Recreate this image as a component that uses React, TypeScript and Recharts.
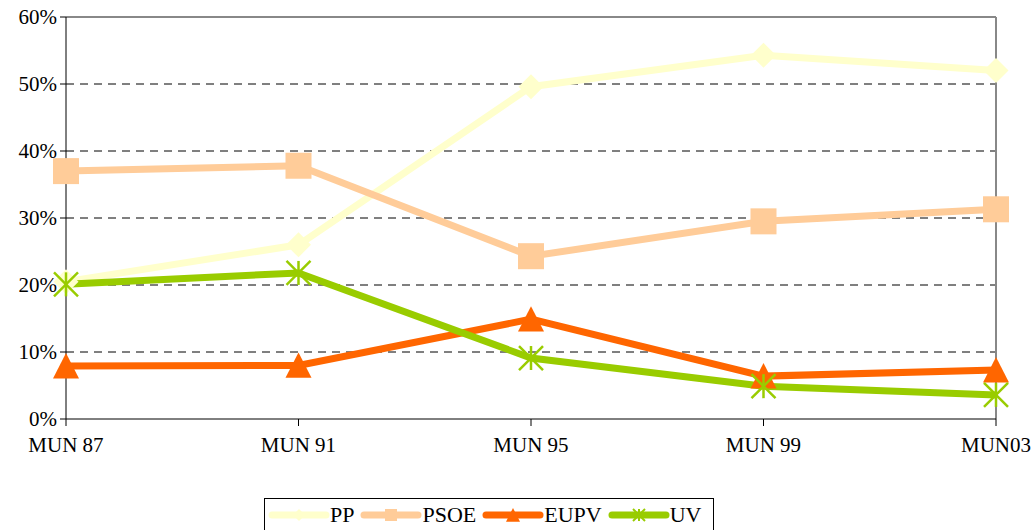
import React from "react";
import {
  LineChart,
  Line,
  XAxis,
  YAxis,
  CartesianGrid,
  ReferenceLine,
} from "recharts";

const categories = ["MUN 87", "MUN 91", "MUN 95", "MUN 99", "MUN03"];
const ppValues = [0.205, 0.26, 0.496, 0.543, 0.52];
const psoeValues = [0.37, 0.378, 0.243, 0.295, 0.313];
const eupvValues = [0.079, 0.08, 0.149, 0.064, 0.073];
const uvValues = [0.201, 0.218, 0.091, 0.049, 0.036];
const yTicks = [0, 0.1, 0.2, 0.3, 0.4, 0.5, 0.6];

const data = categories.map((cat, i) => ({
  cat,
  PP: ppValues[i],
  PSOE: psoeValues[i],
  EUPV: eupvValues[i],
  UV: uvValues[i],
}));

const COLORS = {
  PP: "#FFFFCC",
  PSOE: "#FFCC99",
  EUPV: "#FF6600",
  UV: "#99CC00",
};

// serif families, Liberation Serif is metric-compatible with Times
const FONT = '"Liberation Serif", "DejaVu Serif", serif';

type DotProps = { cx?: number; cy?: number; index?: number };

const Diamond = (s: number, color: string) => (p: DotProps) =>
  p.cx == null || p.cy == null ? null : (
    <polygon
      key={`d${p.index}`}
      points={`${p.cx},${p.cy - s} ${p.cx + s},${p.cy} ${p.cx},${p.cy + s} ${p.cx - s},${p.cy}`}
      fill={color}
    />
  );

const Square = (s: number, color: string) => (p: DotProps) =>
  p.cx == null || p.cy == null ? null : (
    <rect key={`s${p.index}`} x={p.cx - s} y={p.cy - s} width={s * 2} height={s * 2} fill={color} />
  );

const Triangle = (s: number, color: string) => (p: DotProps) =>
  p.cx == null || p.cy == null ? null : (
    <polygon
      key={`t${p.index}`}
      points={`${p.cx},${p.cy - s} ${p.cx + s},${p.cy + s * 0.95} ${p.cx - s},${p.cy + s * 0.95}`}
      fill={color}
    />
  );

const Star = (s: number, color: string, w: number) => (p: DotProps) =>
  p.cx == null || p.cy == null ? null : (
    <g key={`x${p.index}`} stroke={color} strokeWidth={w}>
      <line x1={p.cx - s} y1={p.cy - s} x2={p.cx + s} y2={p.cy + s} />
      <line x1={p.cx - s} y1={p.cy + s} x2={p.cx + s} y2={p.cy - s} />
      <line x1={p.cx} y1={p.cy - s} x2={p.cx} y2={p.cy + s} />
    </g>
  );

const legendItems = [
  { name: "PP", color: COLORS.PP, marker: Diamond(6, COLORS.PP) },
  { name: "PSOE", color: COLORS.PSOE, marker: Square(6, COLORS.PSOE) },
  { name: "EUPV", color: COLORS.EUPV, marker: Triangle(7, COLORS.EUPV) },
  { name: "UV", color: COLORS.UV, marker: Star(6, COLORS.UV, 2) },
];

const ChartLegend = () => (
  <div
    style={{
      position: "absolute",
      left: 264,
      top: 498,
      width: 450,
      height: 40,
      border: "1px solid #000",
      boxSizing: "border-box",
      display: "flex",
      alignItems: "flex-start",
      paddingLeft: 3,
      paddingTop: 4,
      fontFamily: FONT,
      fontSize: 22,
      color: "#000",
    }}
  >
    {legendItems.map((it) => (
      <div key={it.name} style={{ display: "flex", alignItems: "center", marginRight: 6 }}>
        <svg width={62} height={24}>
          <line x1={4} y1={12} x2={58} y2={12} stroke={it.color} strokeWidth={7} strokeLinecap="round" />
          {it.marker({ cx: 31, cy: 12, index: 0 })}
        </svg>
        <span style={{ lineHeight: "24px" }}>{it.name}</span>
      </div>
    ))}
  </div>
);

const tickStyle = { fill: "#000", fontSize: 21, style: { fontFamily: FONT } };

const App = () => {
  return (
    <div style={{ position: "relative", width: 1034, height: 530, overflow: "hidden", fontFamily: FONT }}>
      <style>{`body{margin:0} .recharts-text{font-family:${FONT}}`}</style>
      <LineChart
        width={1034}
        height={530}
        data={data}
        margin={{ top: 17, right: 38, left: 0, bottom: 0 }}
      >
        <CartesianGrid
          vertical={false}
          stroke="#000"
          strokeDasharray="8 6"
          horizontalValues={[0.1, 0.2, 0.3, 0.4, 0.5]}
        />
        <ReferenceLine y={0.6} stroke="#888" strokeWidth={2} />
        <ReferenceLine x="MUN03" stroke="#888" strokeWidth={2} />
        <XAxis
          dataKey="cat"
          height={111}
          stroke="#000"
          tickSize={7}
          tickMargin={11}
          tick={tickStyle}
          interval={0}
        />
        <YAxis
          width={66}
          domain={[0, 0.6]}
          ticks={yTicks}
          stroke="#000"
          tickSize={6}
          tickMargin={3}
          tickFormatter={(v: number) => `${Math.round(v * 100)}%`}
          tick={tickStyle}
        />
        <Line
          dataKey="PP"
          stroke={COLORS.PP}
          strokeWidth={7}
          dot={Diamond(12.5, COLORS.PP)}
          activeDot={false}
          isAnimationActive={false}
        />
        <Line
          dataKey="PSOE"
          stroke={COLORS.PSOE}
          strokeWidth={7}
          dot={Square(13, COLORS.PSOE)}
          activeDot={false}
          isAnimationActive={false}
        />
        <Line
          dataKey="EUPV"
          stroke={COLORS.EUPV}
          strokeWidth={7}
          dot={Triangle(13, COLORS.EUPV)}
          activeDot={false}
          isAnimationActive={false}
        />
        <Line
          dataKey="UV"
          stroke={COLORS.UV}
          strokeWidth={7}
          dot={Star(12, COLORS.UV, 2.5)}
          activeDot={false}
          isAnimationActive={false}
        />
      </LineChart>
      <ChartLegend />
    </div>
  );
};

export default App;
